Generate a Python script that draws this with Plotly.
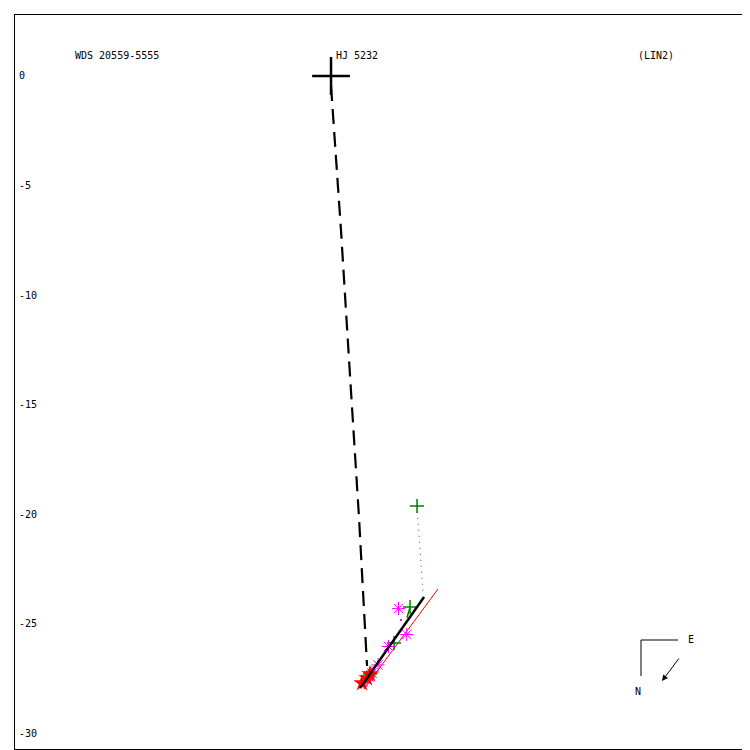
import plotly.graph_objects as go

# ---- data (plot units) ----
primary_x = [0.0]
primary_y = [0.0]

path_x = [0.0, 0.457, 0.868, 1.279, 1.644]
path_y = [-0.46, -7.08, -13.70, -20.18, -26.94]

fit_x = [1.324, 4.247]
fit_y = [-27.95, -23.79]

red_x = [1.507, 4.886]
red_y = [-27.99, -23.42]

dot_x = [3.927, 4.20]
dot_y = [-19.63, -23.61]

gplus_x = [3.927, 3.607, 2.877, 1.78]
gplus_y = [-19.63, -24.25, -25.89, -27.30]

resid_x = [3.607, 3.47]
resid_y = [-24.25, -24.74]

ast_x = [3.082, 3.457, 2.626, 2.146, 1.872, 1.735, 1.644]
ast_y = [-24.32, -25.50, -26.05, -26.89, -27.26, -27.44, -27.58]

mdot_x = [3.196]
mdot_y = [-24.84]

star_x = [1.416, 1.644, 1.78]
star_y = [-27.72, -27.49, -27.31]

ytick_vals = [0, -5, -10, -15, -20, -25, -30]
ytick_text = ["0", "-5", "-10", "-15", "-20", "-25", "-30"]

x_range = [-14.43, 19.13]
y_range = [-30.73, 2.785]

FONT = "DejaVu Sans Mono"
ML, MT = 7, 7           # page body offsets ~8px; frame at 14px in the window
PW, PH = 735, 734

fig = go.Figure()

fig.add_trace(go.Scatter(x=path_x, y=path_y, mode="lines",
                         line=dict(color="black", width=2.2, dash="15px,8px")))
fig.add_trace(go.Scatter(x=dot_x, y=dot_y, mode="lines",
                         line=dict(color="#008000", width=1, dash="1px,5px")))
fig.add_trace(go.Scatter(x=red_x, y=red_y, mode="lines",
                         line=dict(color="red", width=1)))
fig.add_trace(go.Scatter(x=resid_x, y=resid_y, mode="lines",
                         line=dict(color="#008000", width=1.5)))
fig.add_trace(go.Scatter(x=gplus_x, y=gplus_y, mode="markers",
                         marker=dict(symbol="cross-thin", size=10, color="#008000",
                                     line=dict(color="#008000", width=1.5))))
fig.add_trace(go.Scatter(x=ast_x, y=ast_y, mode="markers",
                         marker=dict(symbol="asterisk-open", size=11, color="magenta",
                                     line=dict(color="magenta", width=1))))
fig.add_trace(go.Scatter(x=mdot_x, y=mdot_y, mode="markers",
                         marker=dict(symbol="square", size=2, color="magenta")))
fig.add_trace(go.Scatter(x=star_x, y=star_y, mode="markers",
                         marker=dict(symbol="star", size=13, color="red")))
fig.add_trace(go.Scatter(x=fit_x, y=fit_y, mode="lines",
                         line=dict(color="black", width=2.5)))
fig.add_trace(go.Scatter(x=primary_x, y=primary_y, mode="markers",
                         marker=dict(symbol="cross-thin", size=27, color="black",
                                     line=dict(color="black", width=2.5))))


def px2paper(px, py):
    return (px - 14) / float(PW), (748 - py) / float(PH)


annos = []
for txt, px in [("WDS 20559-5555", 72), ("HJ 5232", 333), ("(LIN2)", 635)]:
    xp, yp = px2paper(px, 55)
    annos.append(dict(text=txt, x=xp, y=yp, xref="paper", yref="paper",
                      xanchor="left", yanchor="middle", showarrow=False,
                      font=dict(family=FONT, size=10, color="black")))
xe, ye = px2paper(685, 638)
annos.append(dict(text="E", x=xe, y=ye, xref="paper", yref="paper",
                  xanchor="left", yanchor="middle", showarrow=False,
                  font=dict(family=FONT, size=10, color="black")))
xn, yn = px2paper(637, 690)
annos.append(dict(text="N", x=xn, y=yn, xref="paper", yref="paper",
                  xanchor="center", yanchor="middle", showarrow=False,
                  font=dict(family=FONT, size=10, color="black")))
xh, yh = px2paper(661, 680)
annos.append(dict(text="", x=xh, y=yh, xref="paper", yref="paper",
                  ax=18, ay=-24, showarrow=True, arrowhead=2, arrowsize=1.2,
                  arrowwidth=1, arrowcolor="black"))

x0, y0 = px2paper(640, 639)
x1, _ = px2paper(677, 639)
_, y2 = px2paper(640, 675)
shapes = [
    dict(type="line", xref="paper", yref="paper", x0=x0, y0=y0, x1=x1, y1=y0,
         line=dict(color="black", width=1)),
    dict(type="line", xref="paper", yref="paper", x0=x0, y0=y0, x1=x0, y1=y2,
         line=dict(color="black", width=1)),
]

fig.update_layout(
    width=ML + PW + 1, height=MT + PH + 1,
    margin=dict(l=ML, r=1, t=MT, b=1),
    paper_bgcolor="white", plot_bgcolor="white",
    showlegend=False,
    annotations=annos, shapes=shapes,
    xaxis=dict(range=x_range, showgrid=False, zeroline=False,
               showticklabels=False, ticks="", showline=True, mirror=True,
               linecolor="black", linewidth=1),
    yaxis=dict(range=y_range, showgrid=False, zeroline=False,
               tickvals=ytick_vals, ticktext=ytick_text,
               ticklabelposition="inside", ticks="", ticklabelstandoff=3,
               tickfont=dict(family=FONT, size=10, color="black"),
               showline=True, mirror=True, linecolor="black", linewidth=1),
)

fig.write_html("out.html")
